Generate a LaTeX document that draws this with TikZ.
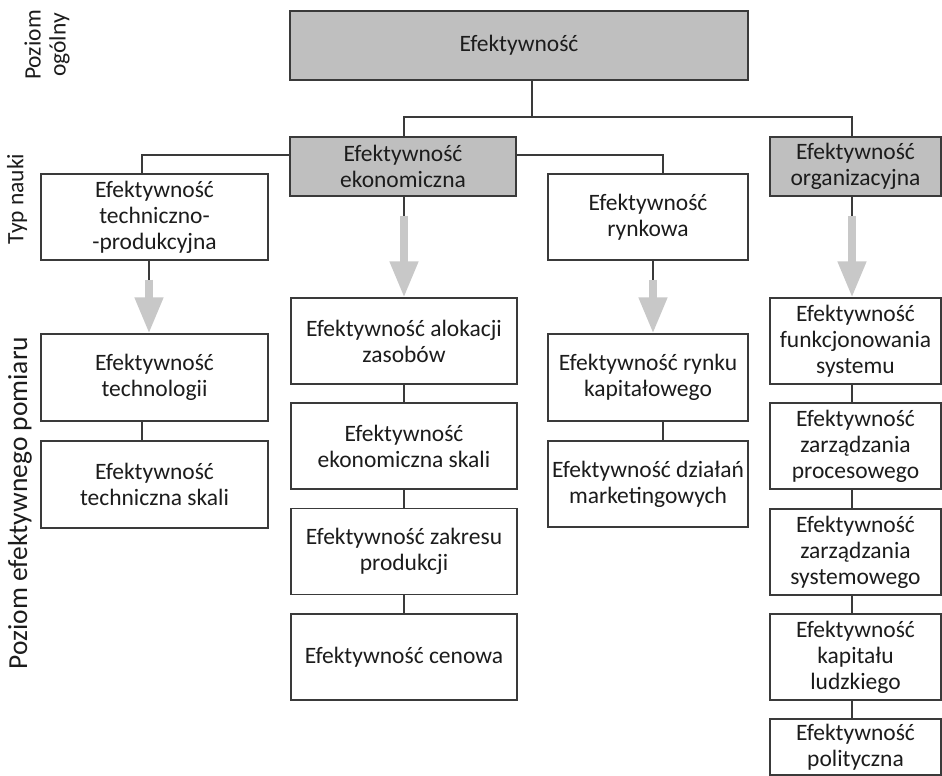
\documentclass[tikz,border=0pt]{standalone}
\usepackage{fontspec}
\setmainfont{Carlito}
\usetikzlibrary{arrows.meta}
\definecolor{boxgray}{HTML}{BFBFBF}
\definecolor{arrgray}{HTML}{C8C8C8}
\definecolor{linec}{HTML}{3A3A3A}
\definecolor{txt}{HTML}{1C1C1C}
\begin{document}
\begin{tikzpicture}[x=1pt,y=-1pt,
  box/.style={draw=linec, line width=1.2pt, fill=white, align=center, inner sep=0pt,
    text=txt, font=\fontsize{23.5}{26}\selectfont},
  gbox/.style={box, fill=boxgray},
  conn/.style={draw=linec, line width=1.1pt},
  bigarr/.style={draw=arrgray, line width=7.5pt, -{Triangle[length=36pt,width=27pt]}},
  lab/.style={rotate=90, align=center, text=txt, inner sep=0pt, font=\fontsize{23.5}{25}\selectfont},
  wl/.style={minimum width=227pt},
  wm/.style={minimum width=226pt},
  wr/.style={minimum width=200pt},
  wo/.style={minimum width=171pt},
  hh/.style={minimum height=86pt}]
\useasboundingbox (0,0) rectangle (942,776);

% top level
\node[gbox, minimum width=458pt, minimum height=69pt] (top) at (519,45.5) {Efektywność};
\node[gbox, wm, minimum height=59pt] (ekon) at (403,166.5) {Efektywność\\ekonomiczna};
\node[gbox, wo, minimum height=59pt] (org) at (855.5,166.5) {Efektywność\\organizacyjna};
\node[box, wl, hh] (tech) at (154.5,217) {Efektywność\\techniczno-\\-produkcyjna};
\node[box, wr, hh] (ryn) at (648,217) {Efektywność\\rynkowa};

% left column
\node[box, wl, minimum height=87pt] (techno) at (154.5,377.5) {Efektywność\\technologii};
\node[box, wl, minimum height=87pt] (techs) at (154.5,484.5) {Efektywność\\techniczna skali};

% middle column
\node[box, wm, hh] (alok) at (404,341) {Efektywność alokacji\\zasobów};
\node[box, wm, hh] (eks) at (404,446) {Efektywność\\ekonomiczna skali};
\node[box, wm, hh] (zak) at (404,551.5) {Efektywność zakresu\\produkcji};
\node[box, wm, hh] (cen) at (404,657) {Efektywność cenowa};

% market column
\node[box, wr, minimum height=87pt] (kap) at (648,377.5) {Efektywność rynku\\kapitałowego};
\node[box, wr, hh] (dzi) at (648,484) {Efektywność działań\\marketingowych};

% organisation column
\node[box, wo, hh] (fun) at (855.5,341) {Efektywność\\funkcjonowania\\systemu};
\node[box, wo, hh] (proc) at (855.5,446) {Efektywność\\zarządzania\\procesowego};
\node[box, wo, hh] (sys) at (855.5,552) {Efektywność\\zarządzania\\systemowego};
\node[box, wo, hh] (ludz) at (855.5,657) {Efektywność\\kapitału\\ludzkiego};
\node[box, wo, minimum height=56pt] (pol) at (855.5,747) {Efektywność\\polityczna};

% side labels
\node[lab] (l1) at (47,45) {Poziom\\ogólny};
\node[lab] (l2) at (17,199) {Typ nauki};
\node[lab, font=\fontsize{27.5}{29}\selectfont] (l3) at (20,503) {Poziom efektywnego pomiaru};

% tree connectors
\coordinate (j) at (532,117);
\draw[conn] (top.south -| j) -- (j);
\draw[conn] ([xshift=1pt]ekon.north) |- (j) -| ([xshift=-3.5pt]org.north);
\draw[conn] ([yshift=11.5pt]ekon.west) -| ([xshift=-12.5pt]tech.north);
\draw[conn] ([yshift=11.5pt]ekon.east) -| ([xshift=15pt]ryn.north);

% gray arrows
\draw[conn] ([xshift=-5.5pt]tech.south) -- ++(0,19) coordinate (ta);
\draw[bigarr] (ta) -- (ta |- techno.north);
\draw[conn] ([xshift=1pt]ekon.south) -- ++(0,19) coordinate (ea);
\draw[bigarr] (ea) -- (ea |- alok.north);
\draw[conn] ([xshift=5pt]ryn.south) -- ++(0,19) coordinate (ra);
\draw[bigarr] (ra) -- (ra |- kap.north);
\draw[conn] ([xshift=-3.5pt]org.south) -- ++(0,19) coordinate (oa);
\draw[bigarr] (oa) -- (oa |- fun.north);

% stacked connectors
\draw[conn] ([xshift=-12.5pt]techno.south) -- ([xshift=-12.5pt]techs.north);
\draw[conn] (alok) -- (eks);
\draw[conn] (eks) -- (zak);
\draw[conn] (zak) -- (cen);
\draw[conn] ([xshift=15pt]kap.south) -- ([xshift=15pt]dzi.north);
\draw[conn] ([xshift=-3.5pt]fun.south) -- ([xshift=-3.5pt]proc.north);
\draw[conn] ([xshift=-3.5pt]proc.south) -- ([xshift=-3.5pt]sys.north);
\draw[conn] ([xshift=-3.5pt]sys.south) -- ([xshift=-3.5pt]ludz.north);
\draw[conn] ([xshift=-3.5pt]ludz.south) -- ([xshift=-3.5pt]pol.north);
\end{tikzpicture}
\end{document}
